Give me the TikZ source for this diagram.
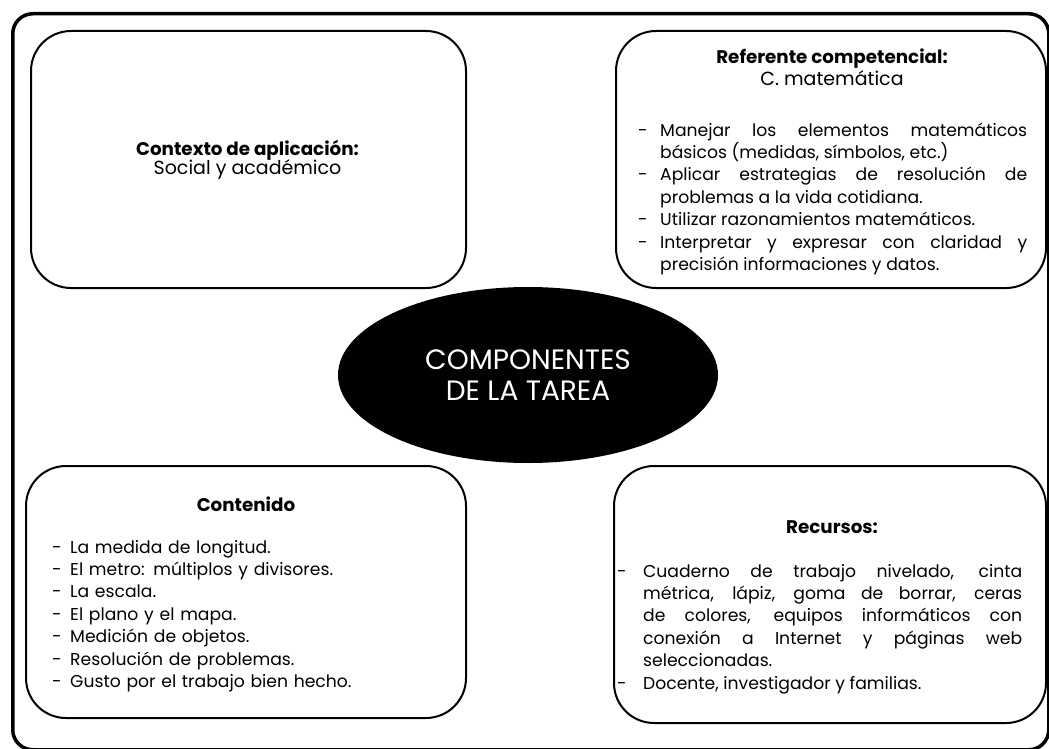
\documentclass[tikz,border=0pt]{standalone}
\usepackage{fontspec}
\setmainfont{Poppins}
\usetikzlibrary{shapes.geometric}
\newlength\itmind
\newcommand\itm[1]{\hangindent=\itmind\hangafter=1\noindent\makebox[\itmind][l]{-}#1\par}
\begin{document}
\begin{tikzpicture}[x=1pt,y=-1pt,
  bx/.style={draw, line width=2pt, rounded corners=40pt, inner sep=0pt, anchor=north west},
  body/.style={inner sep=0pt, font=\fontsize{17.2}{22.4}\selectfont, text=black},
  ttl/.style={inner sep=0pt, font=\fontsize{18.3}{22.4}\selectfont\bfseries, text=black, anchor=base},
  sub/.style={inner sep=0pt, font=\fontsize{19}{22.4}\selectfont, text=black, anchor=base},
]
\useasboundingbox (0,0) rectangle (1049,749);
% outer frame
\node[draw, line width=3.5pt, rounded corners=20pt, minimum width=1036pt, minimum height=736pt, anchor=north west, inner sep=0pt] (frame) at (11,12) {};
% boxes
\node[bx, minimum width=435pt, minimum height=257pt] (ctx) at (30,30) {};
\node[bx, minimum width=430pt, minimum height=257pt] (ref) at (615,30) {};
\node[bx, minimum width=440pt, minimum height=252pt] (cont) at (25,465) {};
\node[bx, minimum width=432pt, minimum height=257pt] (rec) at (613,465) {};
% centre ellipse
\node[ellipse, fill=black, minimum width=380pt, minimum height=176pt, inner sep=0pt,
      text=white, align=center, font=\fontsize{28}{31}\selectfont] (core) at (528,375) {COMPONENTES\\DE LA TAREA};
% top-left
\node[ttl] (ctxt) at (247.5,155) {Contexto de aplicación:};
\node[sub] (ctxs) at (247.5,175) {Social y académico};
% top-right
\node[ttl] (reft) at (832,64) {Referente competencial:};
\node[sub] (refs) at (832,86) {C. matemática};
\setlength\itmind{22pt}
\node[body, text width=389pt, align=justify, anchor=base west] (refl) at (638,136) {%
\itm{Manejar los elementos matemáticos\linebreak básicos (medidas, símbolos, etc.)}%
\itm{Aplicar estrategias de resolución de\linebreak problemas a la vida cotidiana.}%
\itm{Utilizar razonamientos matemáticos.}%
\itm{Interpretar y expresar con claridad y\linebreak precisión informaciones y datos.}};
% bottom-left
\node[ttl] (contt) at (246,511) {Contenido};
\setlength\itmind{18pt}
\node[body, text width=400pt, align=left, anchor=base west] (contl) at (52,553) {%
\itm{La medida de longitud.}%
\itm{El metro: múltiplos y divisores.}%
\itm{La escala.}%
\itm{El plano y el mapa.}%
\itm{Medición de objetos.}%
\itm{Resolución de problemas.}%
\itm{Gusto por el trabajo bien hecho.}};
% bottom-right
\node[ttl] (rect) at (832,533) {Recursos:};
\setlength\itmind{26pt}
\node[body, text width=405pt, align=justify, anchor=base west] (recl) at (617,577) {%
\itm{Cuaderno de trabajo nivelado, cinta\linebreak métrica, lápiz, goma de borrar, ceras\linebreak de colores, equipos informáticos con\linebreak conexión a Internet y páginas web\linebreak seleccionadas.}%
\itm{Docente, investigador y familias.}};
\end{tikzpicture}
\end{document}
